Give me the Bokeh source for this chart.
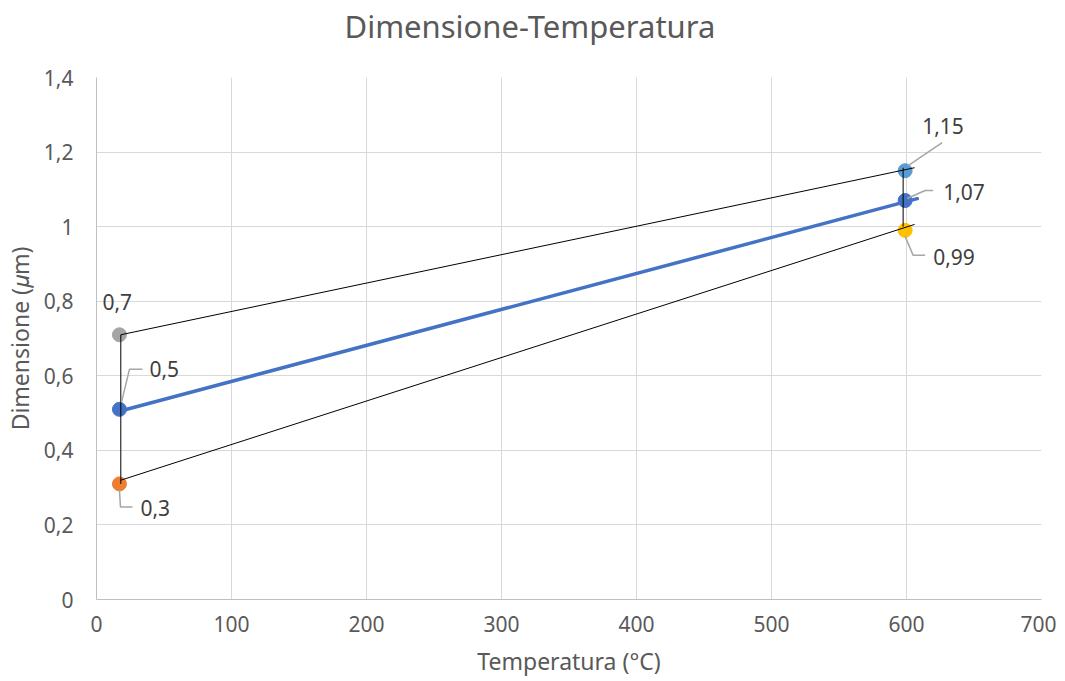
from bokeh.plotting import figure
from bokeh.models import Range1d, FixedTicker, ColumnDataSource
from bokeh.core.properties import value
from bokeh.embed import file_html
from bokeh.resources import INLINE

# ---- data ----
temp_points = [17, 17, 17, 599, 599, 599]
dim_points = [0.71, 0.51, 0.31, 1.15, 1.07, 0.99]
point_labels = ["0,7", "0,5", "0,3", "1,15", "1,07", "0,99"]
point_colors = ["#A5A5A5", "#4472C4", "#ED7D31", "#5B9BD5", "#4472C4", "#FFC000"]

mean_x = [17, 608]
mean_y = [0.505, 1.075]
upper_x = [18, 606]
upper_y = [0.71, 1.158]
lower_x = [18, 606]
lower_y = [0.32, 1.006]
left_bar_x = [18, 18]
left_bar_y = [0.31, 0.71]
right_bar_x = [597.5, 597.5]
right_bar_y = [1.0, 1.158]

x_ticks = [0, 100, 200, 300, 400, 500, 600, 700]
y_ticks = [0, 0.2, 0.4, 0.6, 0.8, 1.0, 1.2, 1.4]
y_tick_labels = ["0", "0,2", "0,4", "0,6", "0,8", "1", "1,2", "1,4"]

title_text = "Dimensione-Temperatura"
x_title = "Temperatura (°C)"
y_title = "Dimensione (𝜇m)"

# label placement (screen px relative to point)
label_dx = [-17, 30, 21, 17, 38, 28]
label_dy = [-33, -40, 24, -45, -9, 27]
leader_px = [
    None,
    [(2, -7), (10, -40), (23, -40)],
    [(0, 6), (1, 23), (13, 23)],
    [(3, -5), (37, -28)],
    [(2, -2), (20, -10), (28, -10)],
    [(0, 6), (8, 25), (20, 25)],
]

FONT = "Noto Sans"
TXT = "#595959"
FW, FH = 945, 522
XMAX, YMAX = 700, 1.4
sx, sy = XMAX / FW, YMAX / FH

p = figure(frame_width=FW, frame_height=FH, output_backend="svg", toolbar_location=None,
           x_range=Range1d(0, XMAX), y_range=Range1d(0, YMAX),
           min_border_left=89, min_border_right=15, min_border_top=77, min_border_bottom=0)
p.outline_line_color = None
p.background_fill_color = "white"

p.title.text = title_text
p.title.align = "left"
p.title.offset = 248
p.title.standoff = 5
p.title.vertical_align = "top"
p.title.padding = dict(top=0, right=0, bottom=26, left=0)
p.title.text_font = FONT
p.title.text_font_size = "31px"
p.title.text_font_style = "normal"
p.title.text_color = TXT

for ax in (p.xaxis[0], p.yaxis[0]):
    ax.axis_line_color = "#BFBFBF"
    ax.major_tick_line_color = None
    ax.minor_tick_line_color = None
    ax.major_label_text_font = FONT
    ax.major_label_text_font_size = "21px"
    ax.major_label_text_color = TXT
    ax.axis_label_text_font = FONT
    ax.axis_label_text_font_size = "23px"
    ax.axis_label_text_font_style = "normal"
    ax.axis_label_text_color = TXT

p.xaxis.ticker = FixedTicker(ticks=x_ticks)
p.yaxis.ticker = FixedTicker(ticks=y_ticks)
p.yaxis.major_label_overrides = {t: l for t, l in zip(y_ticks, y_tick_labels)}
p.xaxis.axis_label = x_title
p.yaxis.axis_label = y_title
p.xaxis.major_label_standoff = 10
p.xaxis.axis_label_standoff = 10
p.yaxis.major_label_standoff = 17
p.yaxis.axis_label_standoff = 5

p.grid.grid_line_color = "#D9D9D9"
p.grid.grid_line_width = 1

# points
src = ColumnDataSource(dict(x=temp_points, y=dim_points, c=point_colors, t=point_labels,
                            dx=label_dx, dy=label_dy))
p.scatter("x", "y", source=src, size=14, fill_color="c", line_color="c")

# mean line
p.line(mean_x, mean_y, line_color="#4472C4", line_width=3.5, line_cap="round")

# envelope lines
p.line(upper_x, upper_y, line_color="black", line_width=1)
p.line(lower_x, lower_y, line_color="black", line_width=1)
p.line(left_bar_x, left_bar_y, line_color="black", line_width=1)
p.line(right_bar_x, right_bar_y, line_color="black", line_width=1)

# leader lines
xs, ys = [], []
for px, py, lp in zip(temp_points, dim_points, leader_px):
    if lp is None:
        continue
    xs.append([px + a * sx for a, b in lp])
    ys.append([py - b * sy for a, b in lp])
p.multi_line(xs, ys, line_color="#A6A6A6", line_width=1.5)

# data labels
p.text("x", "y", text="t", source=src, x_offset="dx", y_offset="dy",
       text_font=value(FONT), text_font_size="21px", text_color="#404040",
       text_align="left", text_baseline="middle")

open("out.html", "w").write(file_html(p, INLINE))
